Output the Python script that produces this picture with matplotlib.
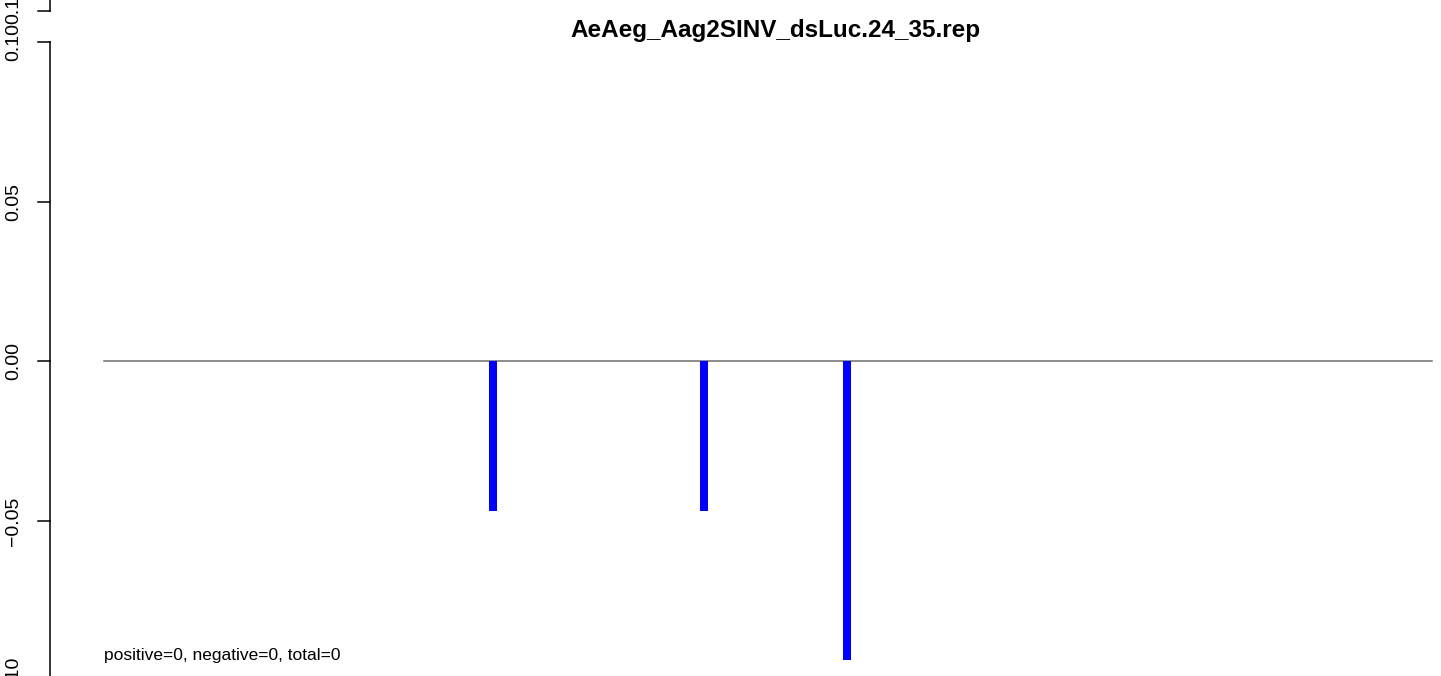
import matplotlib
matplotlib.use("Agg")
import matplotlib.pyplot as plt

plt.rcParams['font.family'] = ['Liberation Sans', 'DejaVu Sans']

title = "AeAeg_Aag2SINV_dsLuc.24_35.rep"
positions = [389, 600, 743]
values = [-0.0467, -0.0467, -0.0934]
line_start, line_end = 0, 1328
yticks = [-0.10, -0.05, 0.00, 0.05, 0.10]
ytick_labels = ["\u22120.10", "\u22120.05", "0.00", "0.05", "0.10"]
extra_tick = 0.1097
extra_label = "0.1"
note = "positive=0, negative=0, total=0"

W, H = 1441, 676
fig = plt.figure(figsize=(W / 100, H / 100), dpi=100)
ax = fig.add_axes([50 / W, 0, 1 - 50 / W, 1])
xl, xr = -54, 1337
ax.set_xlim(xl, xr)
ax.set_ylim(-0.0984, 0.1131)
ax.axis('off')

# zero line
ax.plot([line_start, line_end], [0, 0], color='#6e6e6e', lw=1.1, zorder=1)
# bars
ax.bar(positions, values, width=8, color='#0000ff', zorder=2, linewidth=0)

# y axis
ax.plot([xl, xl], [-0.12, 0.10], color='black', lw=1.1, clip_on=False)
ax.plot([xl, xl], [extra_tick, 0.12], color='black', lw=1.1, clip_on=False)
tick_len = 12
for v, lab in zip(yticks, ytick_labels):
    ax.plot([xl - tick_len, xl], [v, v], color='black', lw=1.1, clip_on=False)
    ax.text(xl - 36.5, v, lab, rotation=90, ha='center', va='center', fontsize=14, clip_on=False)
ax.plot([xl - tick_len, xl], [extra_tick, extra_tick], color='black', lw=1.1, clip_on=False)
ax.text(xl - 36.5, extra_tick, extra_label, rotation=90, ha='center', va='center', fontsize=14, clip_on=False)

fig.text(775 / W, 1 - 30 / H, title, ha='center', va='center', fontsize=17.5, fontweight='bold')
ax.text(0, -0.0934, note, ha='left', va='baseline', fontsize=12.5)

fig.savefig("out.png", dpi=100)
